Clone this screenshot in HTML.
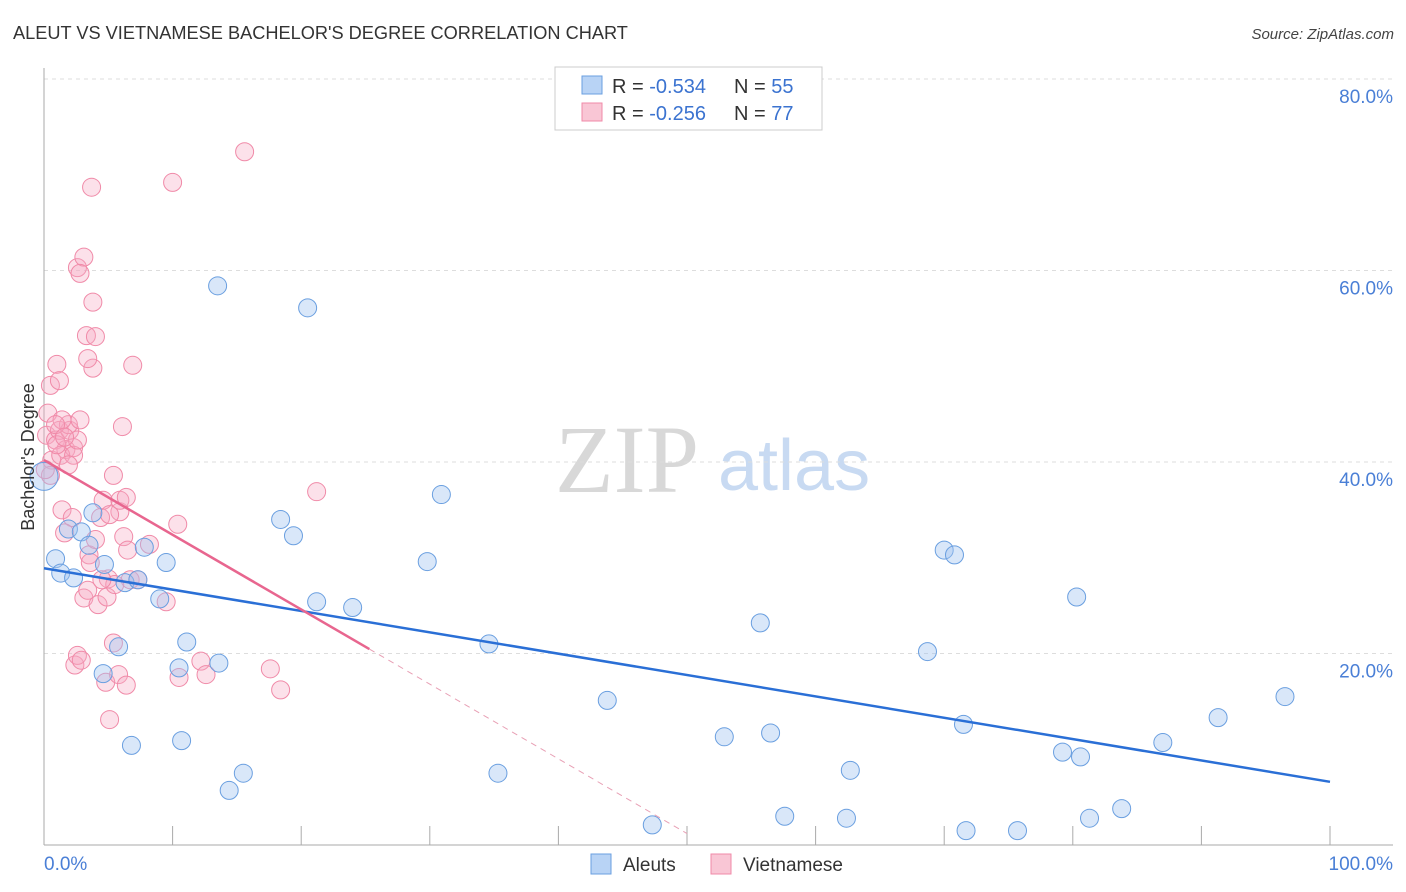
<!DOCTYPE html>
<html><head><meta charset="utf-8"><style>
body{margin:0;background:#fff;font-family:"Liberation Sans",sans-serif}
svg{display:block}
</style></head><body>
<svg width="1406" height="892" xmlns="http://www.w3.org/2000/svg">
<text x="13" y="39" font-size="18.2" fill="#333">ALEUT VS VIETNAMESE BACHELOR'S DEGREE CORRELATION CHART</text>
<text x="1394" y="39" font-size="15" fill="#444" text-anchor="end" font-style="italic">Source: ZipAtlas.com</text>
<g>
<text x="555" y="492" font-size="96" font-family="Liberation Serif" fill="#d8d8d8">ZIP</text>
<text x="718" y="490" font-size="72" fill="#c8daf2">atlas</text>
</g>
<g id="grid"></g>
<g id="axes"></g>
<g id="pts"></g>
<g id="lines"></g>
<text transform="translate(34,457) rotate(-90)" font-size="18" fill="#333" text-anchor="middle">Bachelor's Degree</text>
<g>
<rect x="555" y="67" width="267" height="63" fill="#fff" stroke="#ccc"/>
<rect x="582" y="76" width="20" height="18" fill="#b8d3f5" stroke="#6a9fe0"/>
<rect x="582" y="103" width="20" height="18" fill="#f9c6d5" stroke="#f08aa8"/>
<text x="612" y="93" font-size="20" fill="#333">R = <tspan fill="#3b73d0">-0.534</tspan></text>
<text x="734" y="93" font-size="20" fill="#333">N = <tspan fill="#3b73d0">55</tspan></text>
<text x="612" y="120" font-size="20" fill="#333">R = <tspan fill="#3b73d0">-0.256</tspan></text>
<text x="734" y="120" font-size="20" fill="#333">N = <tspan fill="#3b73d0">77</tspan></text>
</g>
<g>
<rect x="591" y="854" width="20" height="20" fill="#b8d3f5" stroke="#6a9fe0"/>
<text x="623" y="871" font-size="19" fill="#333">Aleuts</text>
<rect x="711" y="854" width="20" height="20" fill="#f9c6d5" stroke="#f08aa8"/>
<text x="743" y="871" font-size="19" fill="#333">Vietnamese</text>
</g>
</svg>
<script>
const yTicks=[20,40,60,80];
const yTickLabels=["20.0%","40.0%","60.0%","80.0%"];
const xTicks=[0,10,20,30,40,50,60,70,80,90,100];
const aleutX=[0,0.9,1.3,2.3,1.9,2.9,3.5,3.8,4.7,4.6,5.8,6.3,7.3,6.8,7.8,9.0,9.5,10.5,10.7,11.1,13.6,15.5,14.4,13.5,18.4,19.4,20.5,21.2,24.0,29.8,30.9,34.6,35.3,43.8,47.3,52.9,55.7,56.5,57.6,62.4,62.7,68.7,70.0,70.8,71.5,71.7,75.7,79.2,80.6,80.3,81.3,83.8,87.0,91.3,96.5];
const aleutY=[38.5,29.9,28.4,27.9,33.0,32.7,31.3,34.7,29.3,17.9,20.7,27.4,27.7,10.4,31.1,25.7,29.5,18.5,10.9,21.2,19.0,7.5,5.7,58.4,34.0,32.3,56.1,25.4,24.8,29.6,36.6,21.0,7.5,15.1,2.1,11.3,23.2,11.7,3.0,2.8,7.8,20.2,30.8,30.3,12.6,1.5,1.5,9.7,9.2,25.9,2.8,3.8,10.7,13.3,15.5];
const vietX=[0.3,0.5,1.0,1.2,0.2,0.6,0.9,1.2,1.7,2.0,2.3,1.9,2.8,1.3,2.3,1.4,2.2,1.6,3.1,3.4,3.5,4.0,4.2,4.4,4.6,4.9,4.8,5.1,5.0,5.4,5.4,5.8,5.9,6.1,6.4,6.2,6.5,6.7,7.3,8.2,9.5,10.4,10.5,12.2,12.6,17.6,18.4,21.2,2.4,2.6,2.9,2.6,3.1,2.8,3.8,3.3,4.0,3.8,3.4,6.9,3.7,10.0,15.6,1.4,0.9,5.1,5.5,5.9,1.0,1.9,2.6,1.6,0.5,0.1,6.4,3.6,4.5];
const vietY=[45.1,48.0,50.2,48.5,42.8,40.2,42.3,43.3,41.3,43.3,41.5,43.9,44.4,40.7,40.7,35.0,34.2,32.6,25.8,26.6,30.3,31.9,25.1,34.2,36.0,25.9,17.0,13.1,27.8,38.6,21.1,17.8,34.8,43.7,16.7,32.2,30.8,27.7,27.7,31.4,25.4,33.5,17.5,19.2,17.8,18.4,16.2,36.9,18.8,19.8,19.3,60.3,61.4,59.7,56.7,53.2,53.1,49.8,50.8,50.1,68.7,69.2,72.4,44.4,43.9,34.5,27.2,36.0,41.8,39.7,42.3,42.6,38.6,39.2,36.3,29.5,27.7];
const aleutTrend=[28.9,6.6];
const vietTrend=[40.2,-0.78];
const vietSolidEnd=25.3, vietDashEnd=50.0;

const NS="http://www.w3.org/2000/svg";
const X=v=>44+v*12.86, Y=v=>845-v*9.575;
function mk(tag,attrs,parent){const e=document.createElementNS(NS,tag);for(const k in attrs)e.setAttribute(k,attrs[k]);parent.appendChild(e);return e;}
const grid=document.getElementById('grid'),axes=document.getElementById('axes'),pts=document.getElementById('pts'),lines=document.getElementById('lines');
yTicks.forEach((t,i)=>{
 const l=mk('line',{x1:44,x2:1393,y1:Y(t),y2:Y(t),stroke:'#ddd','stroke-dasharray':'4,4'},grid);
 
 
 const tx=mk('text',{x:1393,y:Y(t)+24,'font-size':19,fill:'#4a7fd6','text-anchor':'end'},grid);
 tx.textContent=yTickLabels[i];
 
 
});
const ax=mk('line',{x1:44,x2:44,y1:68,y2:845,stroke:'#aaa'},axes);


const bx=mk('line',{x1:44,x2:1393,y1:845,y2:845,stroke:'#aaa'},axes);


xTicks.forEach(t=>{const l=mk('line',{x1:X(t),x2:X(t),y1:826,y2:845,stroke:'#aaa'},axes);
 
 });
const x0=mk('text',{x:44,y:870,'font-size':19,fill:'#4a7fd6'},axes);x0.textContent="0.0%";


const x1=mk('text',{x:1393,y:870,'font-size':19,fill:'#4a7fd6','text-anchor':'end'},axes);x1.textContent="100.0%";


vietX.forEach((v,i)=>{const c=mk('circle',{cx:X(v),cy:Y(vietY[i]),r:9,fill:'rgba(246,170,195,0.35)',stroke:'#f08aa8','stroke-width':1},pts);
 
 });
aleutX.forEach((v,i)=>{const c=mk('circle',{cx:X(v),cy:Y(aleutY[i]),r:i==0?14:9,fill:'rgba(160,196,240,0.4)',stroke:'#6a9fe0','stroke-width':1},pts);
 
 });
const bl=mk('line',{x1:X(0),y1:Y(aleutTrend[0]),x2:X(100),y2:Y(aleutTrend[1]),stroke:'#2a6fd6','stroke-width':2.5},lines);


const vy=x=>vietTrend[0]+vietTrend[1]*x;
const pl=mk('line',{x1:X(0),y1:Y(vy(0)),x2:X(vietSolidEnd),y2:Y(vy(vietSolidEnd)),stroke:'#e8668f','stroke-width':2.5},lines);


const pd=mk('line',{x1:X(vietSolidEnd),y1:Y(vy(vietSolidEnd)),x2:X(vietDashEnd),y2:Y(vy(vietDashEnd)),stroke:'#e8a0b5','stroke-width':1,'stroke-dasharray':'6,5'},lines);


</script>
</body></html>
